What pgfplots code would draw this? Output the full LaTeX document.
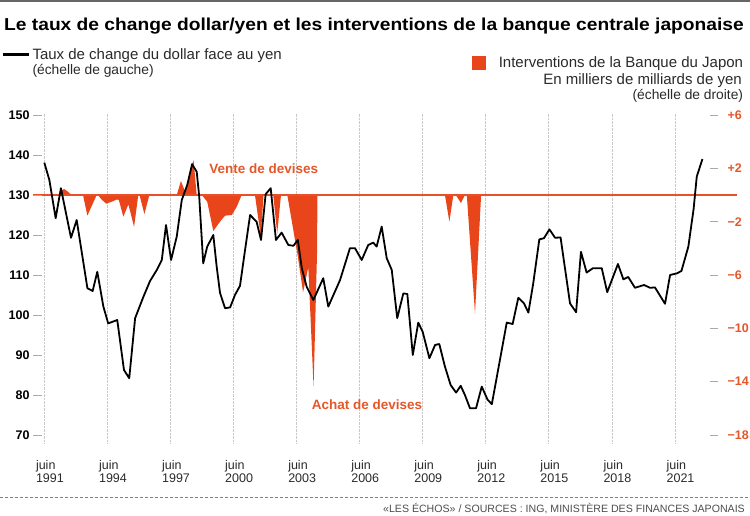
\documentclass[border=0pt]{standalone}
\usepackage{fontspec}
\setmainfont{Liberation Sans}
\usepackage{pgfplots}
\pgfplotsset{compat=1.18}
\usepackage{pgfplotstable}
\usepackage{graphicx}

\definecolor{area}{HTML}{E8461A}
\definecolor{orangetxt}{HTML}{E4572A}
\definecolor{zeroline}{HTML}{E8502A}
\definecolor{tickgray}{HTML}{AAAAAA}
\definecolor{gridgray}{HTML}{C8C8C8}
\definecolor{txt}{HTML}{2A2A2A}

\pgfplotstableread{
year usdjpy
1991.42 138.1
1991.66 133.75
1991.96 124.2
1992.21 131.7
1992.69 119.3
1992.96 123.75
1993.47 106.7
1993.72 106.0
1993.94 110.8
1994.23 102.1
1994.46 97.9
1994.89 98.75
1995.21 86.25
1995.46 84.2
1995.74 99.2
1996.13 104.5
1996.45 108.5
1996.77 111.25
1997.01 113.75
1997.21 122.5
1997.45 113.75
1997.72 119.6
1997.96 128.75
1998.22 132.5
1998.45 137.7
1998.67 135.8
1998.79 129.6
1998.98 112.9
1999.17 117.1
1999.46 120
1999.62 112.1
1999.78 105.5
2000.02 101.7
2000.26 101.9
2000.49 105
2000.73 107.3
2000.97 116.25
2001.21 125
2001.52 123.3
2001.73 118.75
2001.95 130.2
2002.19 131.7
2002.44 118.75
2002.71 120.6
2003.03 117.5
2003.27 117.3
2003.48 118.75
2003.67 111.7
2003.90 107.1
2004.22 103.75
2004.69 109.2
2004.93 102.1
2005.49 108.75
2005.96 116.7
2006.20 116.7
2006.52 113.75
2006.83 117.5
2007.07 118.1
2007.23 117.1
2007.47 122.1
2007.71 114.2
2007.95 111.25
2008.21 99.2
2008.50 105.4
2008.69 105.25
2008.95 90
2009.21 98.1
2009.42 95.8
2009.74 89.2
2010.01 92.5
2010.21 92.75
2010.48 87.1
2010.75 82.5
2011.01 80.6
2011.23 82.3
2011.43 80
2011.67 76.7
2011.96 76.7
2012.23 82.1
2012.50 78.9
2012.71 77.7
2013.13 89.75
2013.42 98.1
2013.70 97.75
2013.97 104.3
2014.24 102.9
2014.45 100.6
2014.68 107.9
2014.97 118.9
2015.19 119.2
2015.45 121.4
2015.72 119.3
2015.98 119.4
2016.43 102.9
2016.72 100.7
2016.95 115.8
2017.22 110.6
2017.52 111.7
2017.94 111.7
2018.20 105.7
2018.71 112.75
2018.97 108.9
2019.20 109.5
2019.52 106.8
2019.95 107.5
2020.24 106.8
2020.47 106.9
2020.95 102.8
2021.19 110
2021.51 110.4
2021.73 111.0
2022.06 117.1
2022.19 122
2022.31 126.5
2022.46 134.6
2022.73 139
}\fxtable

\pgfplotstableread{
year boj
1992.09 0
1992.21 0.3
1992.36 0.45
1992.50 0.3
1992.72 0
1993.26 0
1993.47 -1.55
1993.91 0
1993.98 0
1994.12 -0.3
1994.36 -0.65
1994.63 -0.5
1994.89 -0.33
1994.97 -0.4
1995.18 -1.63
1995.42 -0.7
1995.69 -2.4
1995.89 0
1995.95 0
1996.18 -1.43
1996.42 0
1997.72 0
1997.92 1.05
1998.11 0.3
1998.26 0.95
1998.38 2.0
1998.52 2.6
1998.67 0
1998.91 0
1999.17 -0.5
1999.46 -2.7
1999.78 -2.0
2000.02 -1.55
2000.34 -1.5
2000.57 -0.9
2000.81 0
2001.44 0
2001.72 -3.1
2001.85 0
2002.31 0
2002.50 -2.9
2002.68 0
2002.98 0
2003.23 -2.3
2003.48 -4.6
2003.73 -7.3
2003.98 -5.4
2004.23 -14.4
2004.40 -4.0
2004.41 0
2010.48 0
2010.69 -2.0
2010.88 0
2011.04 -0.1
2011.24 -0.6
2011.43 0
2011.52 0
2011.91 -8.9
2012.20 0
}\bojtable

\begin{document}
\begin{tikzpicture}
\useasboundingbox (0,0) rectangle (750pt,516pt);

% right scale axis: interventions, grid, x labels
\begin{axis}[
  at={(42pt,73pt)}, anchor=south west,
  scale only axis, width=668pt, height=329.2pt,
  xmin=1991.31, xmax=2023.09,
  ymin=-18.6, ymax=6.09,
  clip=false,
  axis line style={draw=none},
  tick align=outside,
  major tick length=8pt,
  xtick={1991.42,1994.42,1997.42,2000.42,2003.42,2006.42,2009.42,2012.42,2015.42,2018.42,2021.42},
  xticklabels={{juin\\1991},{juin\\1994},{juin\\1997},{juin\\2000},{juin\\2003},{juin\\2006},{juin\\2009},{juin\\2012},{juin\\2015},{juin\\2018},{juin\\2021}},
  xtick pos=bottom,
  x tick style={draw=none},
  xticklabel style={align=left, anchor=north west, inner sep=0pt, xshift=-8.5pt, yshift=-9pt,
     font=\fontsize{12.5}{13.5}\selectfont, text=txt},
  xmajorgrids,
  x grid style={gridgray, densely dotted, line width=0.6pt},
  ytick={-18,-14,-10,-6,-2,2,6},
  yticklabels={−18,−14,−10,−6,−2,+2,+6},
  ytick pos=right,
  yticklabel pos=right,
  y tick style={tickgray, line width=0.7pt},
  yticklabel style={font=\fontsize{12.5}{12.5}\selectfont\bfseries, text=orangetxt, xshift=6pt},
]
\addplot[fill=area, draw=none] table[x=year,y=boj]{\bojtable} \closedcycle;
\addplot[zeroline, line width=1.05pt] coordinates {(1990.88,0) (2024.37,0)};
\end{axis}

% left scale axis: exchange rate
\begin{axis}[
  at={(42pt,73pt)}, anchor=south west,
  scale only axis, width=668pt, height=329.2pt,
  xmin=1991.31, xmax=2023.09,
  ymin=68, ymax=150.3,
  axis line style={draw=none},
  tick align=outside,
  major tick length=9pt,
  xtick=\empty,
  ytick={70,80,90,100,110,120,130,140,150},
  yticklabels={70,80,90,100,110,120,130,140,150},
  ytick pos=left,
  y tick style={tickgray, line width=0.7pt},
  yticklabel style={font=\fontsize{12.5}{12.5}\selectfont\bfseries, text=black},
]
\addplot[black, line width=1.8pt, line join=round] table[x=year,y=usdjpy]{\fxtable};
\end{axis}

% frame lines
\draw[black!60, line width=1.5pt] (0pt,515pt) -- (750pt,515pt);
\draw[black!50, line width=0.6pt, dash pattern=on 3pt off 2pt] (0pt,18.7pt) -- (750pt,18.7pt);

% title
\node[anchor=base west, inner sep=0pt] at (4pt,485.3pt)
  {\scalebox{1.11}[1]{\fontsize{17.3}{17.3}\selectfont\bfseries Le taux de change dollar/yen et les interventions de la banque centrale japonaise}};

% legend left
\draw[black, line width=3pt] (3.3pt,461pt) -- (29.3pt,461pt);
\node[anchor=base west, inner sep=0pt, text=txt] at (32.3pt,456pt) {\fontsize{15}{15}\selectfont Taux de change du dollar face au yen};
\node[anchor=base west, inner sep=0pt, text=txt] at (32.3pt,441pt) {\fontsize{13.8}{13.8}\selectfont (échelle de gauche)};

% legend right
\fill[area] (471.7pt,446pt) rectangle (486pt,460pt);
\node[anchor=base east, inner sep=0pt, text=txt] at (743.3pt,448.7pt) {\fontsize{15}{15}\selectfont Interventions de la Banque du Japon};
\node[anchor=base east, inner sep=0pt, text=txt] at (742pt,431.5pt) {\fontsize{15}{15}\selectfont En milliers de milliards de yen};
\node[anchor=base east, inner sep=0pt, text=txt] at (743.3pt,416pt) {\fontsize{13.8}{13.8}\selectfont (échelle de droite)};

% annotations
\node[anchor=base, inner sep=0pt, text=orangetxt] at (263.8pt,342pt) {\fontsize{13.5}{13.5}\selectfont\bfseries Vente de devises};
\node[anchor=base west, inner sep=0pt, text=orangetxt] at (311.7pt,106pt) {\fontsize{13.5}{13.5}\selectfont\bfseries Achat de devises};

% footer
\node[anchor=base east, inner sep=0pt, text=black!70] at (745pt,3.3pt) {\fontsize{10.6}{10.6}\selectfont «LES ÉCHOS» / SOURCES : ING, MINISTÈRE DES FINANCES JAPONAIS};
\end{tikzpicture}
\end{document}
